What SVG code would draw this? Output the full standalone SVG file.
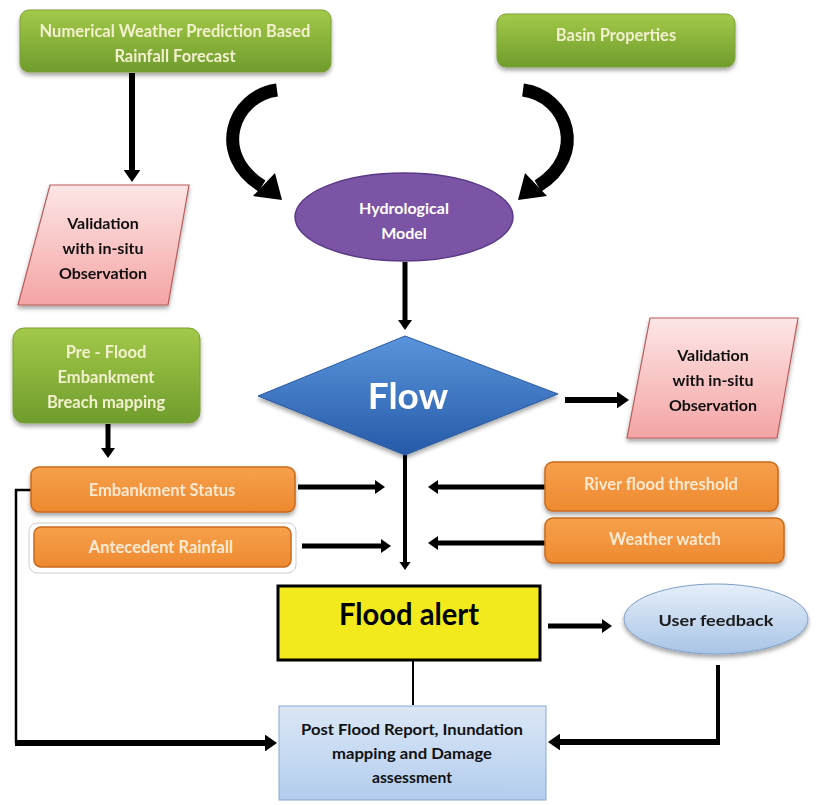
<svg xmlns="http://www.w3.org/2000/svg" width="817" height="805" viewBox="0 0 817 805">
<defs>
<linearGradient id="gGreen" x1="0" y1="0" x2="0" y2="1"><stop offset="0" stop-color="#a3c94a"/><stop offset="1" stop-color="#6f9c2c"/></linearGradient>
<linearGradient id="gOrange" x1="0" y1="0" x2="0" y2="1"><stop offset="0" stop-color="#f6a04c"/><stop offset="1" stop-color="#ee8a30"/></linearGradient>
<linearGradient id="gPink" x1="0" y1="0" x2="0" y2="1"><stop offset="0" stop-color="#fde6e6"/><stop offset="1" stop-color="#f4a4a4"/></linearGradient>
<linearGradient id="gBlue" x1="0" y1="0" x2="0" y2="1"><stop offset="0" stop-color="#5a95dc"/><stop offset="1" stop-color="#2659a8"/></linearGradient>
<linearGradient id="gLight" x1="0" y1="0" x2="0" y2="1"><stop offset="0" stop-color="#e6effa"/><stop offset="1" stop-color="#a9c4e6"/></linearGradient>
<linearGradient id="gPost" x1="0" y1="0" x2="0" y2="1"><stop offset="0" stop-color="#dbe7f6"/><stop offset="1" stop-color="#b3cdee"/></linearGradient>
<filter id="sh" x="-10%" y="-10%" width="120%" height="130%"><feDropShadow dx="0" dy="3" stdDeviation="2" flood-color="#000" flood-opacity="0.35"/></filter>
<marker id="ah" markerWidth="2" markerHeight="2.8" refX="1" refY="1.4" orient="auto" markerUnits="strokeWidth"><path d="M0,0 L2,1.4 L0,2.8 Z" fill="#000"/></marker>
</defs>
<style>
text{font-family:Lato,"Open Sans","Liberation Sans",sans-serif;font-weight:bold;text-anchor:middle;dominant-baseline:central}
.g{fill:url(#gGreen);stroke:#7da035;stroke-width:1}
.gt{fill:#f3f0cf;font-size:16.5px}
.o{fill:url(#gOrange);stroke:#c96a1c;stroke-width:1.5}
.ot{fill:#fde9d2;font-size:16.5px}
.p{fill:url(#gPink);stroke:#b85c5c;stroke-width:1.2}
.pt{fill:#111;font-size:16px}
.line{fill:none;stroke:#000}
</style>
<g id="connectors">
<line class="line" x1="132" y1="73" x2="132" y2="176" stroke-width="6" marker-end="url(#ah)"/>
<path class="line" d="M277,90 C232,96 212,155 262,186" stroke-width="13"/>
<polygon points="282,200 253,196 275,173" fill="#000"/>
<path class="line" d="M523,90 C568,96 588,155 538,186" stroke-width="13"/>
<polygon points="518,200 547,196 525,173" fill="#000"/>
<line class="line" x1="405" y1="262" x2="405" y2="325" stroke-width="5" marker-end="url(#ah)"/>
<line class="line" x1="565" y1="400" x2="623" y2="400" stroke-width="6" marker-end="url(#ah)"/>
<line class="line" x1="108" y1="424" x2="108" y2="453" stroke-width="5" marker-end="url(#ah)"/>
<line class="line" x1="298" y1="487" x2="380" y2="487" stroke-width="5" marker-end="url(#ah)"/>
<line class="line" x1="302" y1="546" x2="386" y2="546" stroke-width="5" marker-end="url(#ah)"/>
<line class="line" x1="545" y1="487" x2="433" y2="487" stroke-width="5" marker-end="url(#ah)"/>
<line class="line" x1="545" y1="543" x2="433" y2="543" stroke-width="5" marker-end="url(#ah)"/>
<line class="line" x1="405" y1="455" x2="405" y2="566" stroke-width="4" marker-end="url(#ah)"/>
<line class="line" x1="548" y1="626" x2="607" y2="626" stroke-width="5" marker-end="url(#ah)"/>
<line class="line" x1="413" y1="661" x2="413" y2="705" stroke-width="2"/>
<path class="line" d="M32,490 L16,490 L16,743" stroke-width="2.5"/>
<line class="line" x1="15" y1="743" x2="271" y2="743" stroke-width="6" marker-end="url(#ah)"/>
<path class="line" d="M718,665 L718,742" stroke-width="4"/>
<line class="line" x1="720" y1="742" x2="554" y2="742" stroke-width="6" marker-end="url(#ah)"/>
</g>
<g id="nwp" filter="url(#sh)"><rect class="g" x="20" y="10" width="311" height="62" rx="9"/>
<text class="gt" x="175" y="31">Numerical Weather Prediction Based</text><text class="gt" x="175" y="56">Rainfall Forecast</text></g>
<g id="basin" filter="url(#sh)"><rect class="g" x="497" y="14" width="238" height="53" rx="9"/>
<text class="gt" x="616" y="35">Basin Properties</text></g>
<g id="validation1" filter="url(#sh)"><polygon class="p" points="50,185 189,185 168,305 18,305"/>
<text class="pt" x="103" y="222">Validation</text><text class="pt" x="103" y="247">with in-situ</text><text class="pt" x="103" y="272">Observation</text></g>
<g id="hydro"><ellipse cx="404" cy="217" rx="109" ry="44" fill="#7b54a6" stroke="#5b3a86" stroke-width="1.5"/>
<text x="404" y="207" fill="#fff" font-size="16px">Hydrological</text><text x="404" y="232" fill="#fff" font-size="16px">Model</text></g>
<g id="flow" filter="url(#sh)"><polygon points="258,396 405,336 558,394 405,455" fill="url(#gBlue)" stroke="#2a5aa0" stroke-width="1"/>
<text x="408" y="394" fill="#fff" font-size="37px">Flow</text></g>
<g id="validation2" filter="url(#sh)"><polygon class="p" points="650,318 798,318 777,438 627,438"/>
<text class="pt" x="713" y="354">Validation</text><text class="pt" x="713" y="379">with in-situ</text><text class="pt" x="713" y="404">Observation</text></g>
<g id="preflood" filter="url(#sh)"><rect class="g" x="13" y="328" width="187" height="95" rx="11"/>
<text class="gt" x="106" y="352">Pre - Flood</text><text class="gt" x="106" y="377">Embankment</text><text class="gt" x="106" y="402">Breach mapping</text></g>
<g id="embank" filter="url(#sh)"><rect class="o" x="31" y="467" width="264" height="45" rx="8"/>
<text class="ot" x="162" y="490">Embankment Status</text></g>
<g id="antecedent"><rect x="29" y="523" width="267" height="50" rx="8" fill="#fff" stroke="#cccccc" stroke-width="1"/><rect class="o" x="34" y="527" width="257" height="40" rx="7"/>
<text class="ot" x="161" y="547">Antecedent Rainfall</text></g>
<g id="river" filter="url(#sh)"><rect class="o" x="545" y="462" width="233" height="49" rx="8"/>
<text class="ot" x="661" y="484">River flood threshold</text></g>
<g id="weather" filter="url(#sh)"><rect class="o" x="545" y="518" width="239" height="45" rx="8"/>
<text class="ot" x="665" y="539">Weather watch</text></g>
<g id="alert"><rect x="278" y="586" width="262" height="74" fill="#f2ea1c" stroke="#000" stroke-width="3"/>
<text x="409" y="613" fill="#000" font-size="30px" textLength="140" lengthAdjust="spacingAndGlyphs">Flood alert</text></g>
<g id="feedback" filter="url(#sh)"><ellipse cx="716" cy="619" rx="92" ry="35" fill="url(#gLight)" stroke="#7f9fc8" stroke-width="1"/>
<text x="716" y="619" fill="#1a1a1a" font-size="16px" textLength="115" lengthAdjust="spacingAndGlyphs">User feedback</text></g>
<g id="post"><rect x="279" y="706" width="267" height="94" fill="url(#gPost)" stroke="#8aa8d0" stroke-width="1"/>
<text x="412" y="728" fill="#111" font-size="16px" textLength="222" lengthAdjust="spacingAndGlyphs">Post Flood Report, Inundation</text>
<text x="412" y="752" fill="#111" font-size="16px" textLength="160" lengthAdjust="spacingAndGlyphs">mapping and Damage</text>
<text x="412" y="776" fill="#111" font-size="16px" textLength="80" lengthAdjust="spacingAndGlyphs">assessment</text></g>
</svg>
